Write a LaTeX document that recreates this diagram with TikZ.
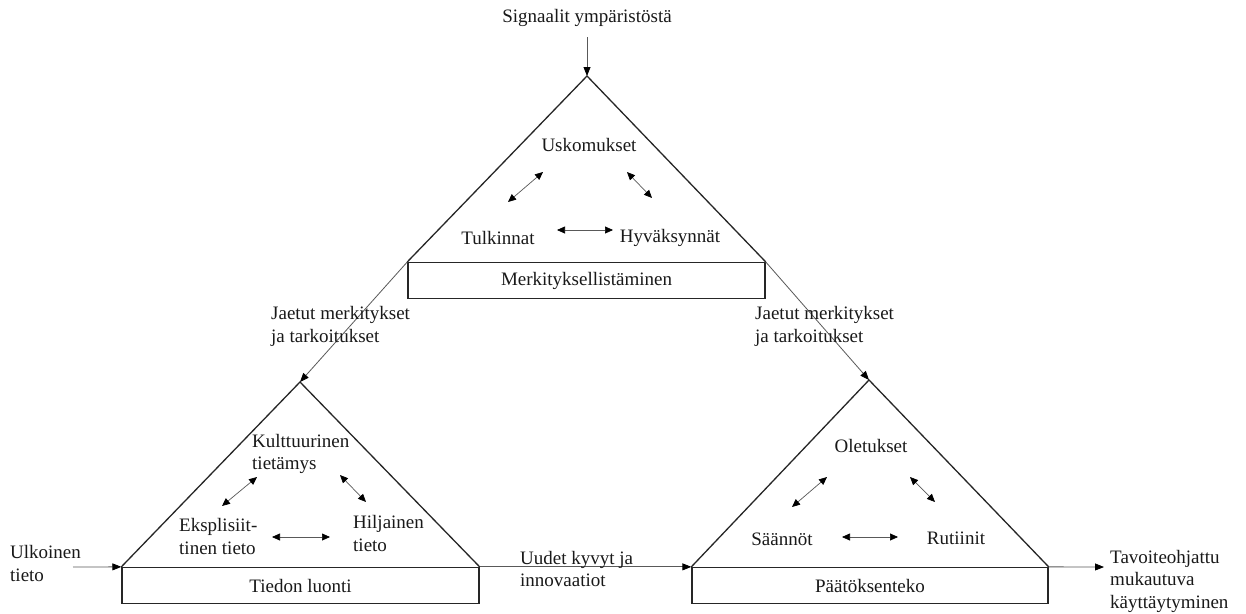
\documentclass[tikz,border=0pt]{standalone}
\usepackage{fontspec}
\setmainfont{Liberation Serif}
\usetikzlibrary{arrows.meta}
\begin{document}
\begin{tikzpicture}[x=1pt,y=-1pt,
  every node/.style={font=\fontsize{19}{22.5}\selectfont, text=black!90},
  tri/.style={draw=black!85, line width=1.3pt, line join=miter},
  stage/.style={draw=black!85, line width=1.3pt, minimum height=36pt, inner sep=0pt},
  flow/.style={draw=black!65, line width=0.8pt, -{Triangle[length=9pt,width=7pt,color=black]}},
  link/.style={draw=black!65, line width=0.7pt, {Triangle[length=8pt,width=7pt,color=black]}-{Triangle[length=8pt,width=7pt,color=black]}},
  lbl/.style={inner sep=0pt, align=left, anchor=west},
  item/.style={inner sep=0pt}]
\useasboundingbox[fill=white] (0,0) rectangle (1246,613);

% Stage boxes
\node[stage, minimum width=357pt] (mb) at (586.5,280.5) {Merkityksellistäminen};
\node[stage, minimum width=357pt] (tb) at (300.5,585.5) {Tiedon luonti};
\node[stage, minimum width=356pt] (pb) at (870,585.5) {Päätöksenteko};

% Apices
\coordinate (ta) at (587,76);
\coordinate (la) at (300,382);
\coordinate (ra) at (869,380);

% Triangles
\draw[tri] (mb.north west) -- (ta) -- (mb.north east);
\draw[tri] (tb.north west) -- (la) -- (tb.north east);
\draw[tri] (pb.north west) -- (ra) -- (pb.north east);

% Flows between stages
\node[inner sep=0pt] (sig) at (587,18) {Signaalit ympäristöstä};
\coordinate (sigs) at (587,37);
\draw[flow] (sigs) -- (ta);
\draw[flow] (mb.north west) -- (la);
\draw[flow] (mb.north east) -- (ra);
\coordinate (ext) at (73,567);
\draw[flow] (ext) -- (tb.north west);
\draw[flow] (tb.north east) -- (pb.north west);
\coordinate (out) at (1104,567);
\draw[flow] (pb.north east) -- (out);

% Flow labels
\node[lbl] (j1) at (271,326.5) {Jaetut merkitykset\\ja tarkoitukset};
\node[lbl] (j2) at (755,326.5) {Jaetut merkitykset\\ja tarkoitukset};
\node[lbl] (uk) at (10,563.5) {Ulkoinen\\tieto};
\node[lbl] (uu) at (520,569) {Uudet kyvyt ja\\innovaatiot};
\node[lbl] (ta2) at (1110,581) {Tavoiteohjattu\\mukautuva\\käyttäytyminen};

% Sensemaking
\node[item] (us) at (589,145) {Uskomukset};
\node[item] (tu) at (498,238) {Tulkinnat};
\node[item] (hy) at (670,238) {Hyväksynnät};
\coordinate (m1a) at (508,202); \coordinate (m1b) at (543,172);
\coordinate (m2a) at (627,172); \coordinate (m2b) at (652,198);
\coordinate (m3a) at (557,230); \coordinate (m3b) at (613,230);
\draw[link] (m1a) -- (m1b);
\draw[link] (m2a) -- (m2b);
\draw[link] (m3a) -- (m3b);

% Knowledge creation
\node[lbl] (ku) at (252,454) {Kulttuurinen\\tietämys};
\node[lbl] (ek) at (179,536.5) {Eksplisiit-\\tinen tieto};
\node[lbl] (hi) at (353,533.5) {Hiljainen\\tieto};
\coordinate (k1a) at (222,506); \coordinate (k1b) at (257,477);
\coordinate (k2a) at (340,475); \coordinate (k2b) at (366,502);
\coordinate (k3a) at (272,537); \coordinate (k3b) at (330,537);
\draw[link] (k1a) -- (k1b);
\draw[link] (k2a) -- (k2b);
\draw[link] (k3a) -- (k3b);

% Decision making
\node[item] (ol) at (871,446) {Oletukset};
\node[item] (sa) at (782,539) {Säännöt};
\node[item] (ru) at (956,538) {Rutiinit};
\coordinate (d1a) at (792,507); \coordinate (d1b) at (827,477);
\coordinate (d2a) at (910,477); \coordinate (d2b) at (935,502);
\coordinate (d3a) at (842,537); \coordinate (d3b) at (898,537);
\draw[link] (d1a) -- (d1b);
\draw[link] (d2a) -- (d2b);
\draw[link] (d3a) -- (d3b);
\end{tikzpicture}
\end{document}
